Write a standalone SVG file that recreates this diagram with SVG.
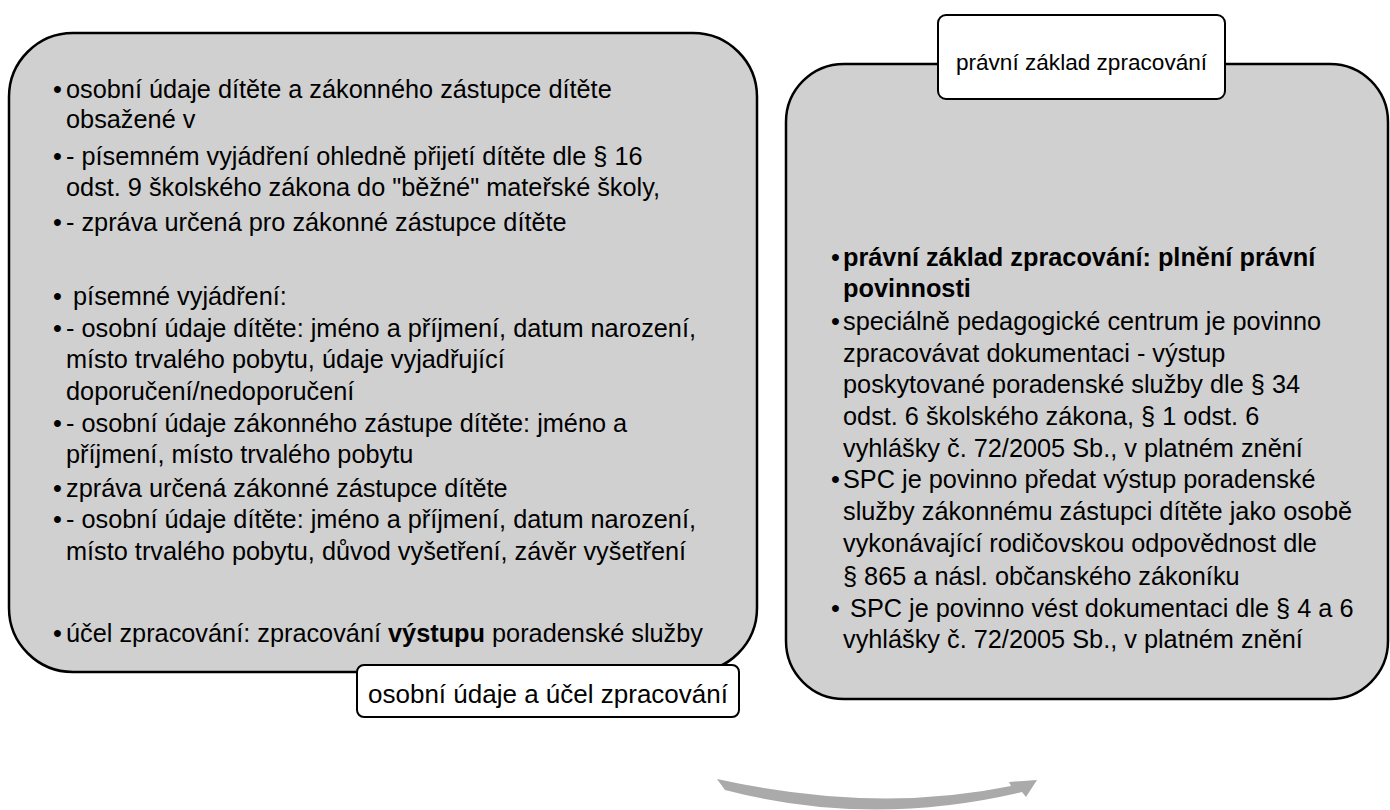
<svg xmlns="http://www.w3.org/2000/svg" width="1390" height="810" viewBox="0 0 1390 810">
<style>
.box{fill:#d0d0d0;stroke:#000;stroke-width:2.5}
.lbl{fill:#fff;stroke:#000;stroke-width:2}
text{font-family:"Liberation Sans",Arial,sans-serif;fill:#000}
.t{font-size:25.3px}
.b{font-weight:bold}
.l1{font-size:26px;text-anchor:middle}
.l2{font-size:22.6px;text-anchor:middle}
.arrow{fill:#aaaaaa}
</style>
<rect width="1390" height="810" fill="#fff"/>
<g id="node-personal-data">
<rect class="box" x="9" y="33" width="748" height="639" rx="64" ry="64"/>
<text class="t" xml:space="preserve">
<tspan x="53" y="98">•</tspan><tspan x="66" y="98">osobní údaje dítěte a zákonného zástupce dítěte</tspan>
<tspan x="66" y="128">obsažené v</tspan>
<tspan x="53" y="165">•</tspan><tspan x="66" y="165">- písemném vyjádření ohledně přijetí dítěte dle § 16</tspan>
<tspan x="66" y="196">odst. 9 školského zákona do "běžné" mateřské školy,</tspan>
<tspan x="53" y="231">•</tspan><tspan x="66" y="231">- zpráva určená pro zákonné zástupce dítěte</tspan>
<tspan x="53" y="305">•</tspan><tspan x="66" y="305"> písemné vyjádření:</tspan>
<tspan x="53" y="337">•</tspan><tspan x="66" y="337">- osobní údaje dítěte: jméno a příjmení, datum narození,</tspan>
<tspan x="66" y="368">místo trvalého pobytu, údaje vyjadřující</tspan>
<tspan x="66" y="400">doporučení/nedoporučení</tspan>
<tspan x="53" y="432">•</tspan><tspan x="66" y="432">- osobní údaje zákonného zástupe dítěte: jméno a</tspan>
<tspan x="66" y="463">příjmení, místo trvalého pobytu</tspan>
<tspan x="53" y="497">•</tspan><tspan x="66" y="497">zpráva určená zákonné zástupce dítěte</tspan>
<tspan x="53" y="528">•</tspan><tspan x="66" y="528">- osobní údaje dítěte: jméno a příjmení, datum narození,</tspan>
<tspan x="66" y="560">místo trvalého pobytu, důvod vyšetření, závěr vyšetření</tspan>
<tspan x="53" y="642">•</tspan><tspan x="66" y="642">účel zpracování: zpracování <tspan class="b">výstupu</tspan> poradenské služby</tspan>
</text>
</g>
<g id="label-personal-data">
<rect class="lbl" x="357" y="665" width="382" height="52" rx="7" ry="7"/>
<text class="l1" x="548" y="703">osobní údaje a účel zpracování</text>
</g>
<g id="node-legal-basis">
<rect class="box" x="786" y="64" width="602" height="635" rx="58" ry="58"/>
<text class="t" xml:space="preserve">
<tspan x="831" y="266">•</tspan><tspan x="843" y="266" class="b">právní základ zpracování: plnění právní</tspan>
<tspan x="843" y="297" class="b">povinnosti</tspan>
<tspan x="831" y="330">•</tspan><tspan x="843" y="330">speciálně pedagogické centrum je povinno</tspan>
<tspan x="843" y="362">zpracovávat dokumentaci - výstup</tspan>
<tspan x="843" y="393">poskytované poradenské služby dle § 34</tspan>
<tspan x="843" y="425">odst. 6 školského zákona, § 1 odst. 6</tspan>
<tspan x="843" y="457">vyhlášky č. 72/2005 Sb., v platném znění</tspan>
<tspan x="831" y="488">•</tspan><tspan x="843" y="488">SPC je povinno předat výstup poradenské</tspan>
<tspan x="843" y="520">služby zákonnému zástupci dítěte jako osobě</tspan>
<tspan x="843" y="552">vykonávající rodičovskou odpovědnost dle</tspan>
<tspan x="843" y="585">§ 865 a násl. občanského zákoníku</tspan>
<tspan x="831" y="617">•</tspan><tspan x="843" y="617"> SPC je povinno vést dokumentaci dle § 4 a 6</tspan>
<tspan x="843" y="648">vyhlášky č. 72/2005 Sb., v platném znění</tspan>
</text>
</g>
<g id="label-legal-basis">
<rect class="lbl" x="938" y="15" width="287" height="84" rx="8" ry="8"/>
<text class="l2" x="1081.5" y="70">právní základ zpracování</text>
</g>
<g id="connectors">
<path id="curved-arrow" class="arrow" d="M717,779 Q875,814 1011,786 L1009,782 L1037,780 L1026,797 L1022,792 Q870,828 725,790 Z"/>
</g>
</svg>
